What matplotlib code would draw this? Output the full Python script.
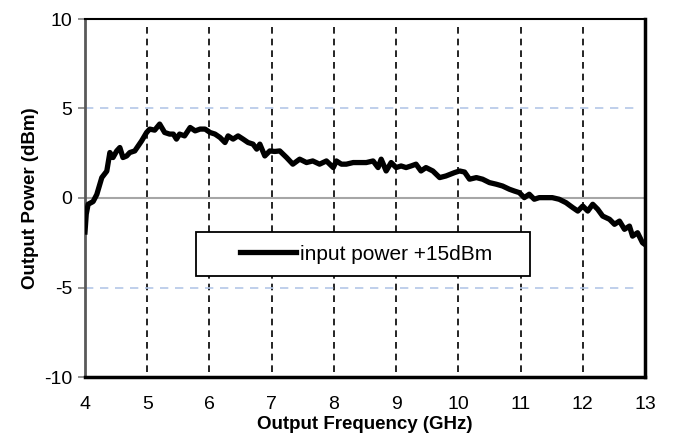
import matplotlib.pyplot as plt
from matplotlib.patches import Rectangle

plt.rcParams['font.family'] = ['Liberation Sans', 'DejaVu Sans']
plt.rcParams['axes.unicode_minus'] = False

freq = [4.0, 4.02, 4.05, 4.13, 4.19, 4.27, 4.35, 4.40, 4.45, 4.51, 4.56, 4.61, 4.67, 4.72,
        4.80, 4.91, 4.99, 5.04, 5.12, 5.20, 5.28, 5.36, 5.42, 5.47, 5.52, 5.60, 5.69,
        5.77, 5.85, 5.93, 6.01, 6.09, 6.17, 6.25, 6.30, 6.38, 6.46, 6.54, 6.62, 6.70,
        6.76, 6.81, 6.89, 6.97, 7.05, 7.13, 7.24, 7.34, 7.45, 7.56, 7.66, 7.77, 7.88,
        7.99, 8.04, 8.12, 8.20, 8.31, 8.41, 8.52, 8.63, 8.71, 8.76, 8.84, 8.92, 9.00,
        9.08, 9.16, 9.24, 9.32, 9.40, 9.48, 9.59, 9.70, 9.80, 9.94, 10.02, 10.10, 10.18,
        10.29, 10.39, 10.50, 10.61, 10.71, 10.82, 10.90, 10.98, 11.06, 11.14, 11.22,
        11.30, 11.41, 11.51, 11.62, 11.73, 11.84, 11.92, 12.00, 12.08, 12.16, 12.24,
        12.32, 12.43, 12.51, 12.59, 12.67, 12.75, 12.80, 12.88, 12.96, 13.0]
power = [-1.9, -0.9, -0.35, -0.2, 0.2, 1.14, 1.5, 2.54, 2.26, 2.63, 2.82, 2.26, 2.35, 2.54,
         2.63, 3.19, 3.66, 3.85, 3.79, 4.13, 3.66, 3.57, 3.57, 3.29, 3.57, 3.47, 3.94,
         3.75, 3.85, 3.85, 3.66, 3.57, 3.38, 3.10, 3.47, 3.29, 3.47, 3.29, 3.10, 3.01,
         2.73, 3.01, 2.35, 2.63, 2.6, 2.63, 2.26, 1.89, 2.17, 1.98, 2.07, 1.89, 2.07,
         1.70, 2.07, 1.89, 1.89, 1.98, 1.98, 1.98, 2.07, 1.70, 2.17, 1.51, 1.98, 1.70,
         1.79, 1.70, 1.79, 1.89, 1.51, 1.70, 1.51, 1.14, 1.23, 1.42, 1.51, 1.45, 1.05,
         1.14, 1.05, 0.86, 0.77, 0.67, 0.49, 0.39, 0.30, 0.02, 0.21, -0.07,
         0.02, 0.02, 0.02, -0.07, -0.26, -0.54, -0.73, -0.45, -0.73, -0.35, -0.63,
         -1.01, -1.19, -1.47, -1.29, -1.75, -1.57, -2.13, -1.94, -2.50, -2.6]

xticks = list(range(4, 14))
yticks = [-10, -5, 0, 5, 10]

fig = plt.figure(figsize=(6.74, 4.41), dpi=100)
ax = fig.add_axes([85 / 674, 1 - 377 / 441, 560 / 674, 358 / 441])

for x in range(5, 13):
    ax.axvline(x, ymin=0.015, ymax=0.985, color='black', lw=1.2, ls=(0, (4, 3)), zorder=1)
for y in [5, -5]:
    ax.axhline(y, xmax=0.99, color='#b4c7e7', lw=1.2, ls=(0, (5, 4)), zorder=1)
ax.axhline(0, color='#a6a6a6', lw=1.5, zorder=1)

ax.plot(freq, power, color='black', lw=3.8, solid_joinstyle='round', zorder=3,
        label='input power +15dBm')

ax.set_xlim(4, 13)
ax.set_ylim(-10, 10)
ax.set_xticks(xticks)
ax.set_yticks(yticks)
ax.tick_params(axis='x', length=0, pad=14, labelsize=14)
ax.tick_params(axis='y', length=5, width=1.2, color='#808080', pad=4, labelsize=14)

ax.spines['left'].set_color('#595959')
ax.spines['left'].set_linewidth(2)
ax.spines['top'].set_linewidth(1.5)
ax.spines['right'].set_linewidth(2.5)
ax.spines['bottom'].set_linewidth(2.5)

ax.set_xlabel('Output Frequency (GHz)', fontsize=13.5, fontweight='bold', labelpad=2)
ax.set_ylabel('Output Power (dBm)', fontsize=13.5, fontweight='bold', labelpad=4)

# legend box drawn by hand so it can be wider than the entry
box = Rectangle(((196 - 85) / 560, (377 - 276) / 358), 334 / 560, 44 / 358,
                transform=ax.transAxes, facecolor='white', edgecolor='black', lw=1.3, zorder=4)
ax.add_patch(box)
leg = ax.legend(loc='center', bbox_to_anchor=((366 - 85) / 560, (377 - 254) / 358),
                frameon=False, fontsize=15, handlelength=2.7, handletextpad=0.2)
leg.set_zorder(5)

fig.savefig('out.png', dpi=100)
